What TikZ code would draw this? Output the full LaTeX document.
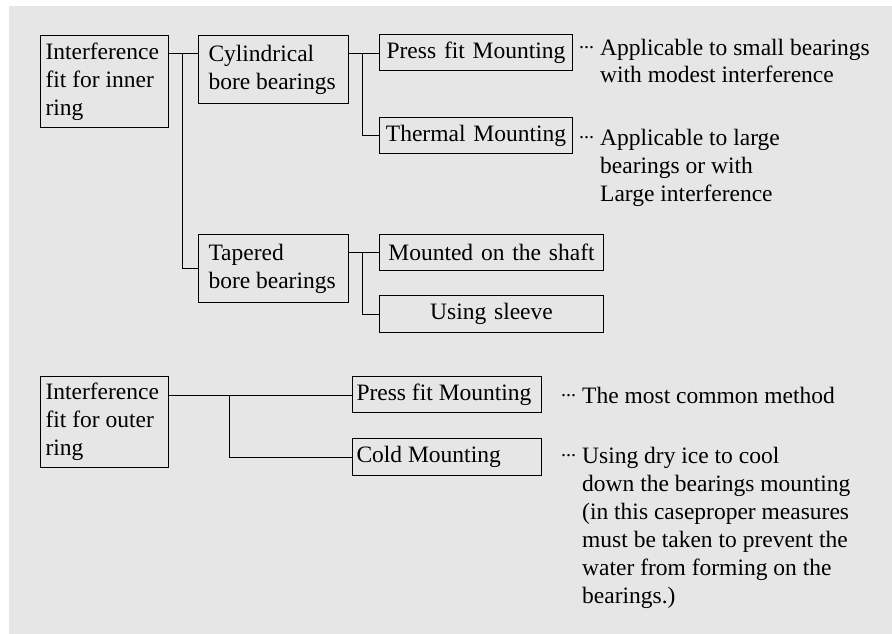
\documentclass[tikz,border=0pt]{standalone}
\usepackage{fontspec}
\setmainfont{Liberation Serif}
\definecolor{panelgray}{HTML}{E6E6E6}
\newcommand{\dotlead}{\llap{\raisebox{6.5pt}{\fontsize{20}{20}\selectfont...}\hspace{6pt}}}
\tikzset{
  box/.style={draw, line width=1pt, anchor=north west, inner ysep=0pt},
  leftbox/.style n args={3}{box, align=flush left, inner xsep=#3, text width=#1, minimum height=#2},
  midbox/.style 2 args={box, align=center, inner xsep=0pt, text width=#1, minimum height=#2},
  note/.style={anchor=base west, align=flush left, inner sep=0pt},
  link/.style={line width=1pt}
}
\begin{document}
\begin{tikzpicture}[x=1pt, y=-1pt, font={\fontsize{23.5}{28}\selectfont}]
\useasboundingbox (0,0) rectangle (892,634);
\fill[panelgray] (9,6) rectangle (892,634);

% Inner ring
\node[leftbox={118pt}{92pt}{5pt}] (inner) at (40,35) {Interference\\fit for inner\\ring};
\node[leftbox={136pt}{68pt}{7pt}] (cyl) at (198,35) {\hspace*{3pt}Cylindrical\\\hspace*{3pt}bore bearings};
\node[leftbox={136pt}{68pt}{7pt}] (taper) at (198,234) {\hspace*{3pt}Tapered\\\hspace*{3pt}bore bearings};
\node[midbox={193pt}{36pt}] (pressA) at (379,34) {Press fit Mounting};
\node[midbox={193pt}{36pt}] (thermal) at (379,117) {Thermal Mounting};
\node[midbox={224pt}{36pt}] (shaft) at (379,234) {Mounted on the shaft};
\node[midbox={224pt}{37pt}] (sleeve) at (379,295) {Using sleeve};

\coordinate (ja) at (182,54);
\coordinate (jb) at (362,54);
\coordinate (jc) at (362,252);
\draw[link] (inner.east |- ja) -- (cyl.west |- ja);
\draw[link] (ja) |- (taper.west);
\draw[link] (cyl.east |- jb) -- (pressA.west |- jb);
\draw[link] (jb) |- (thermal.west);
\draw[link] (taper.east |- jc) -- (shaft.west |- jc);
\draw[link] (jc) |- (sleeve.west);

% last line baselines
\node[note] (noteA) at (600,83) {\dotlead Applicable to small bearings\\with modest interference};
\node[note] (noteB) at (600,201) {\dotlead Applicable to large\\bearings or with\\Large interference};

% Outer ring
\node[leftbox={118pt}{91pt}{5pt}] (outer) at (40,376) {Interference\\fit for outer\\ring};
\node[leftbox={181pt}{36pt}{4pt}] (pressB) at (352,376) {Press fit Mounting};
\node[leftbox={181pt}{37pt}{4pt}] (cold) at (352,438) {Cold Mounting};

\coordinate (jd) at (229,395);
\draw[link] (outer.east |- jd) -- (pressB.west |- jd);
\draw[link] (jd) |- (cold.west);

\node[note] (noteC) at (582,403) {\dotlead The most common method};
\node[note] (noteD) at (582,603) {\dotlead Using dry ice to cool\\down the bearings mounting\\(in this caseproper measures\\must be taken to prevent the\\water from forming on the\\bearings.)};

\end{tikzpicture}
\end{document}
